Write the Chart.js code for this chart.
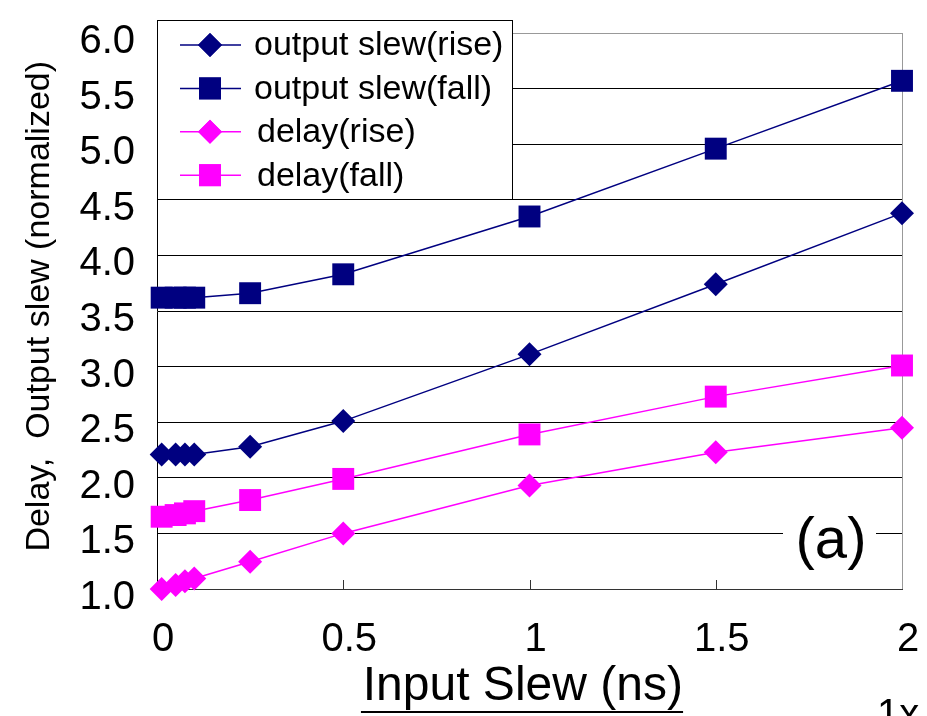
<!DOCTYPE html>
<html>
<head>
<meta charset="utf-8">
<script src="https://cdn.jsdelivr.net/npm/chart.js@4.4.0/dist/chart.umd.min.js"></script>
<style>
  body { margin: 0; background: #fff; }
  #wrap { width: 927px; height: 716px; }
</style>
</head>
<body>
<div id="wrap"><canvas id="c" width="927" height="716"></canvas></div>
<script>
// input slew (ns)
const inputSlew = [0.0125, 0.05, 0.075, 0.1, 0.25, 0.5, 1, 1.5, 2];
const outSlewRise = [2.21, 2.21, 2.21, 2.21, 2.28, 2.51, 3.11, 3.74, 4.38];
const outSlewFall = [3.62, 3.62, 3.62, 3.62, 3.66, 3.83, 4.35, 4.96, 5.57];
const delayRise = [1.0, 1.036, 1.07, 1.095, 1.245, 1.5, 1.93, 2.23, 2.45];
const delayFall = [1.65, 1.665, 1.68, 1.7, 1.8, 1.99, 2.39, 2.73, 3.01];
const xTicks = [0, 0.5, 1, 1.5, 2];
const yTicks = [1.0, 1.5, 2.0, 2.5, 3.0, 3.5, 4.0, 4.5, 5.0, 5.5, 6.0];

const FONT = "'Liberation Sans', Arial, sans-serif";
const NAVY = '#000080';
const MAGENTA = '#ff00ff';

const pts = (ys) => inputSlew.map((x, i) => ({ x: x, y: ys[i] }));

function series(label, ys, color, style) {
  return {
    label: label,
    data: pts(ys),
    borderColor: color,
    backgroundColor: color,
    borderWidth: 1.5,
    pointStyle: style,
    pointRadius: style === 'rect' ? 15.5 : 12,
    pointBorderWidth: 0,
    clip: false,
    tension: 0
  };
}

// no automatic padding from the scales, the frame is set by hand
function noPad(s) {
  s.paddingTop = 0; s.paddingBottom = 0; s.paddingLeft = 0; s.paddingRight = 0;
}

const extras = {
  id: 'extras',
  beforeDatasetsDraw(chart) {
    const ctx = chart.ctx, a = chart.chartArea, xs = chart.scales.x;
    ctx.save();
    // small ticks pointing up from the x axis
    ctx.strokeStyle = '#333';
    ctx.lineWidth = 1;
    xTicks.forEach(v => {
      if (v === 0) return;
      const px = Math.round(xs.getPixelForValue(v)) + 0.5;
      ctx.beginPath();
      ctx.moveTo(px, a.bottom);
      ctx.lineTo(px, a.bottom - 9);
      ctx.stroke();
    });
    // right frame line
    ctx.strokeStyle = '#999';
    ctx.beginPath();
    ctx.moveTo(Math.round(a.right) + 0.5, a.top);
    ctx.lineTo(Math.round(a.right) + 0.5, a.bottom);
    ctx.stroke();
    ctx.restore();
  },
  afterDraw(chart) {
    const ctx = chart.ctx, a = chart.chartArea;
    ctx.save();

    // legend box
    const lx = a.left, ly = a.top - 13, lw = 355, lh = 179;
    ctx.fillStyle = '#fff';
    ctx.fillRect(lx, ly, lw, lh);
    ctx.strokeStyle = '#000';
    ctx.lineWidth = 1;
    ctx.strokeRect(lx + 0.5, ly + 0.5, lw, lh);
    chart.data.datasets.forEach((ds, i) => {
      const y = ly + 25 + i * 43.4;
      ctx.strokeStyle = ds.borderColor;
      ctx.lineWidth = 1.5;
      ctx.beginPath();
      ctx.moveTo(lx + 23, y);
      ctx.lineTo(lx + 84, y);
      ctx.stroke();
      ctx.fillStyle = ds.backgroundColor;
      Chart.helpers.drawPoint(ctx, {
        pointStyle: ds.pointStyle,
        radius: ds.pointRadius,
        rotation: 0,
        borderWidth: 0
      }, lx + 53, y);
      ctx.fill();
      ctx.fillStyle = '#000';
      ctx.font = '34px ' + FONT;
      ctx.textBaseline = 'middle';
      ctx.textAlign = 'left';
      ctx.fillText(ds.label, lx + (i < 2 ? 97 : 100), y + 1);
    });

    // (a) panel mark
    ctx.fillStyle = '#fff';
    ctx.fillRect(783, 505, 93, 70);
    ctx.fillStyle = '#000';
    ctx.font = '58px ' + FONT;
    ctx.textAlign = 'center';
    ctx.textBaseline = 'middle';
    ctx.fillText('(a)', 831, 542);

    // underline of the x title
    const t = chart.options.scales.x.title.text.trim();
    ctx.font = '48px ' + FONT;
    const w = ctx.measureText(t).width;
    const cx = 521;
    ctx.fillRect(cx - w / 2, 711, w + 2, 2);

    // cut-off text at the bottom right
    ctx.font = '40px ' + FONT;
    ctx.textAlign = 'left';
    ctx.textBaseline = 'alphabetic';
    ctx.fillText('1x', 877, 727);
    ctx.restore();
  }
};

new Chart(document.getElementById('c'), {
  type: 'line',
  data: {
    datasets: [
      series('output slew(rise)', outSlewRise, NAVY, 'rectRot'),
      series('output slew(fall)', outSlewFall, NAVY, 'rect'),
      series('delay(rise)', delayRise, MAGENTA, 'rectRot'),
      series('delay(fall)', delayFall, MAGENTA, 'rect')
    ]
  },
  options: {
    responsive: false,
    animation: false,
    layout: { padding: { top: 33, right: 25, left: 0, bottom: 0 } },
    plugins: { legend: { display: false }, tooltip: { enabled: false } },
    scales: {
      x: {
        type: 'linear',
        min: 0,
        max: 2,
        afterBuildTicks: (s) => { s.ticks = xTicks.map(v => ({ value: v })); },
        afterFit: (s) => { s.height = 127; noPad(s); },
        grid: { display: false, drawTicks: false },
        border: { color: '#333', width: 1 },
        ticks: {
          color: '#000',
          font: { family: FONT, size: 40 },
          padding: 27,
          labelOffset: 6,
          maxRotation: 0,
          callback: (v) => String(v)
        },
        title: {
          display: true,
          text: 'Input Slew (ns)\u00a0',
          color: '#000',
          font: { family: FONT, size: 48 },
          padding: { top: 1, bottom: 0 }
        }
      },
      y: {
        type: 'linear',
        min: 1,
        max: 6,
        afterBuildTicks: (s) => { s.ticks = yTicks.map(v => ({ value: v })); },
        afterFit: (s) => { s.width = 157; noPad(s); },
        grid: {
          drawTicks: false,
          color: (c) => (c.tick && c.tick.value === 6 ? '#999' : '#000'),
          lineWidth: 1
        },
        border: { color: '#000', width: 1 },
        ticks: {
          color: '#000',
          font: { family: FONT, size: 40 },
          padding: 22,
          labelOffset: 9,
          callback: (v) => Number(v).toFixed(1)
        },
        title: {
          display: true,
          text: '\u00a0Delay,  Output slew (normalized)',
          color: '#000',
          font: { family: FONT, size: 34 },
          padding: { top: 19, bottom: 0 }
        }
      }
    }
  },
  plugins: [extras]
});
</script>
</body>
</html>
